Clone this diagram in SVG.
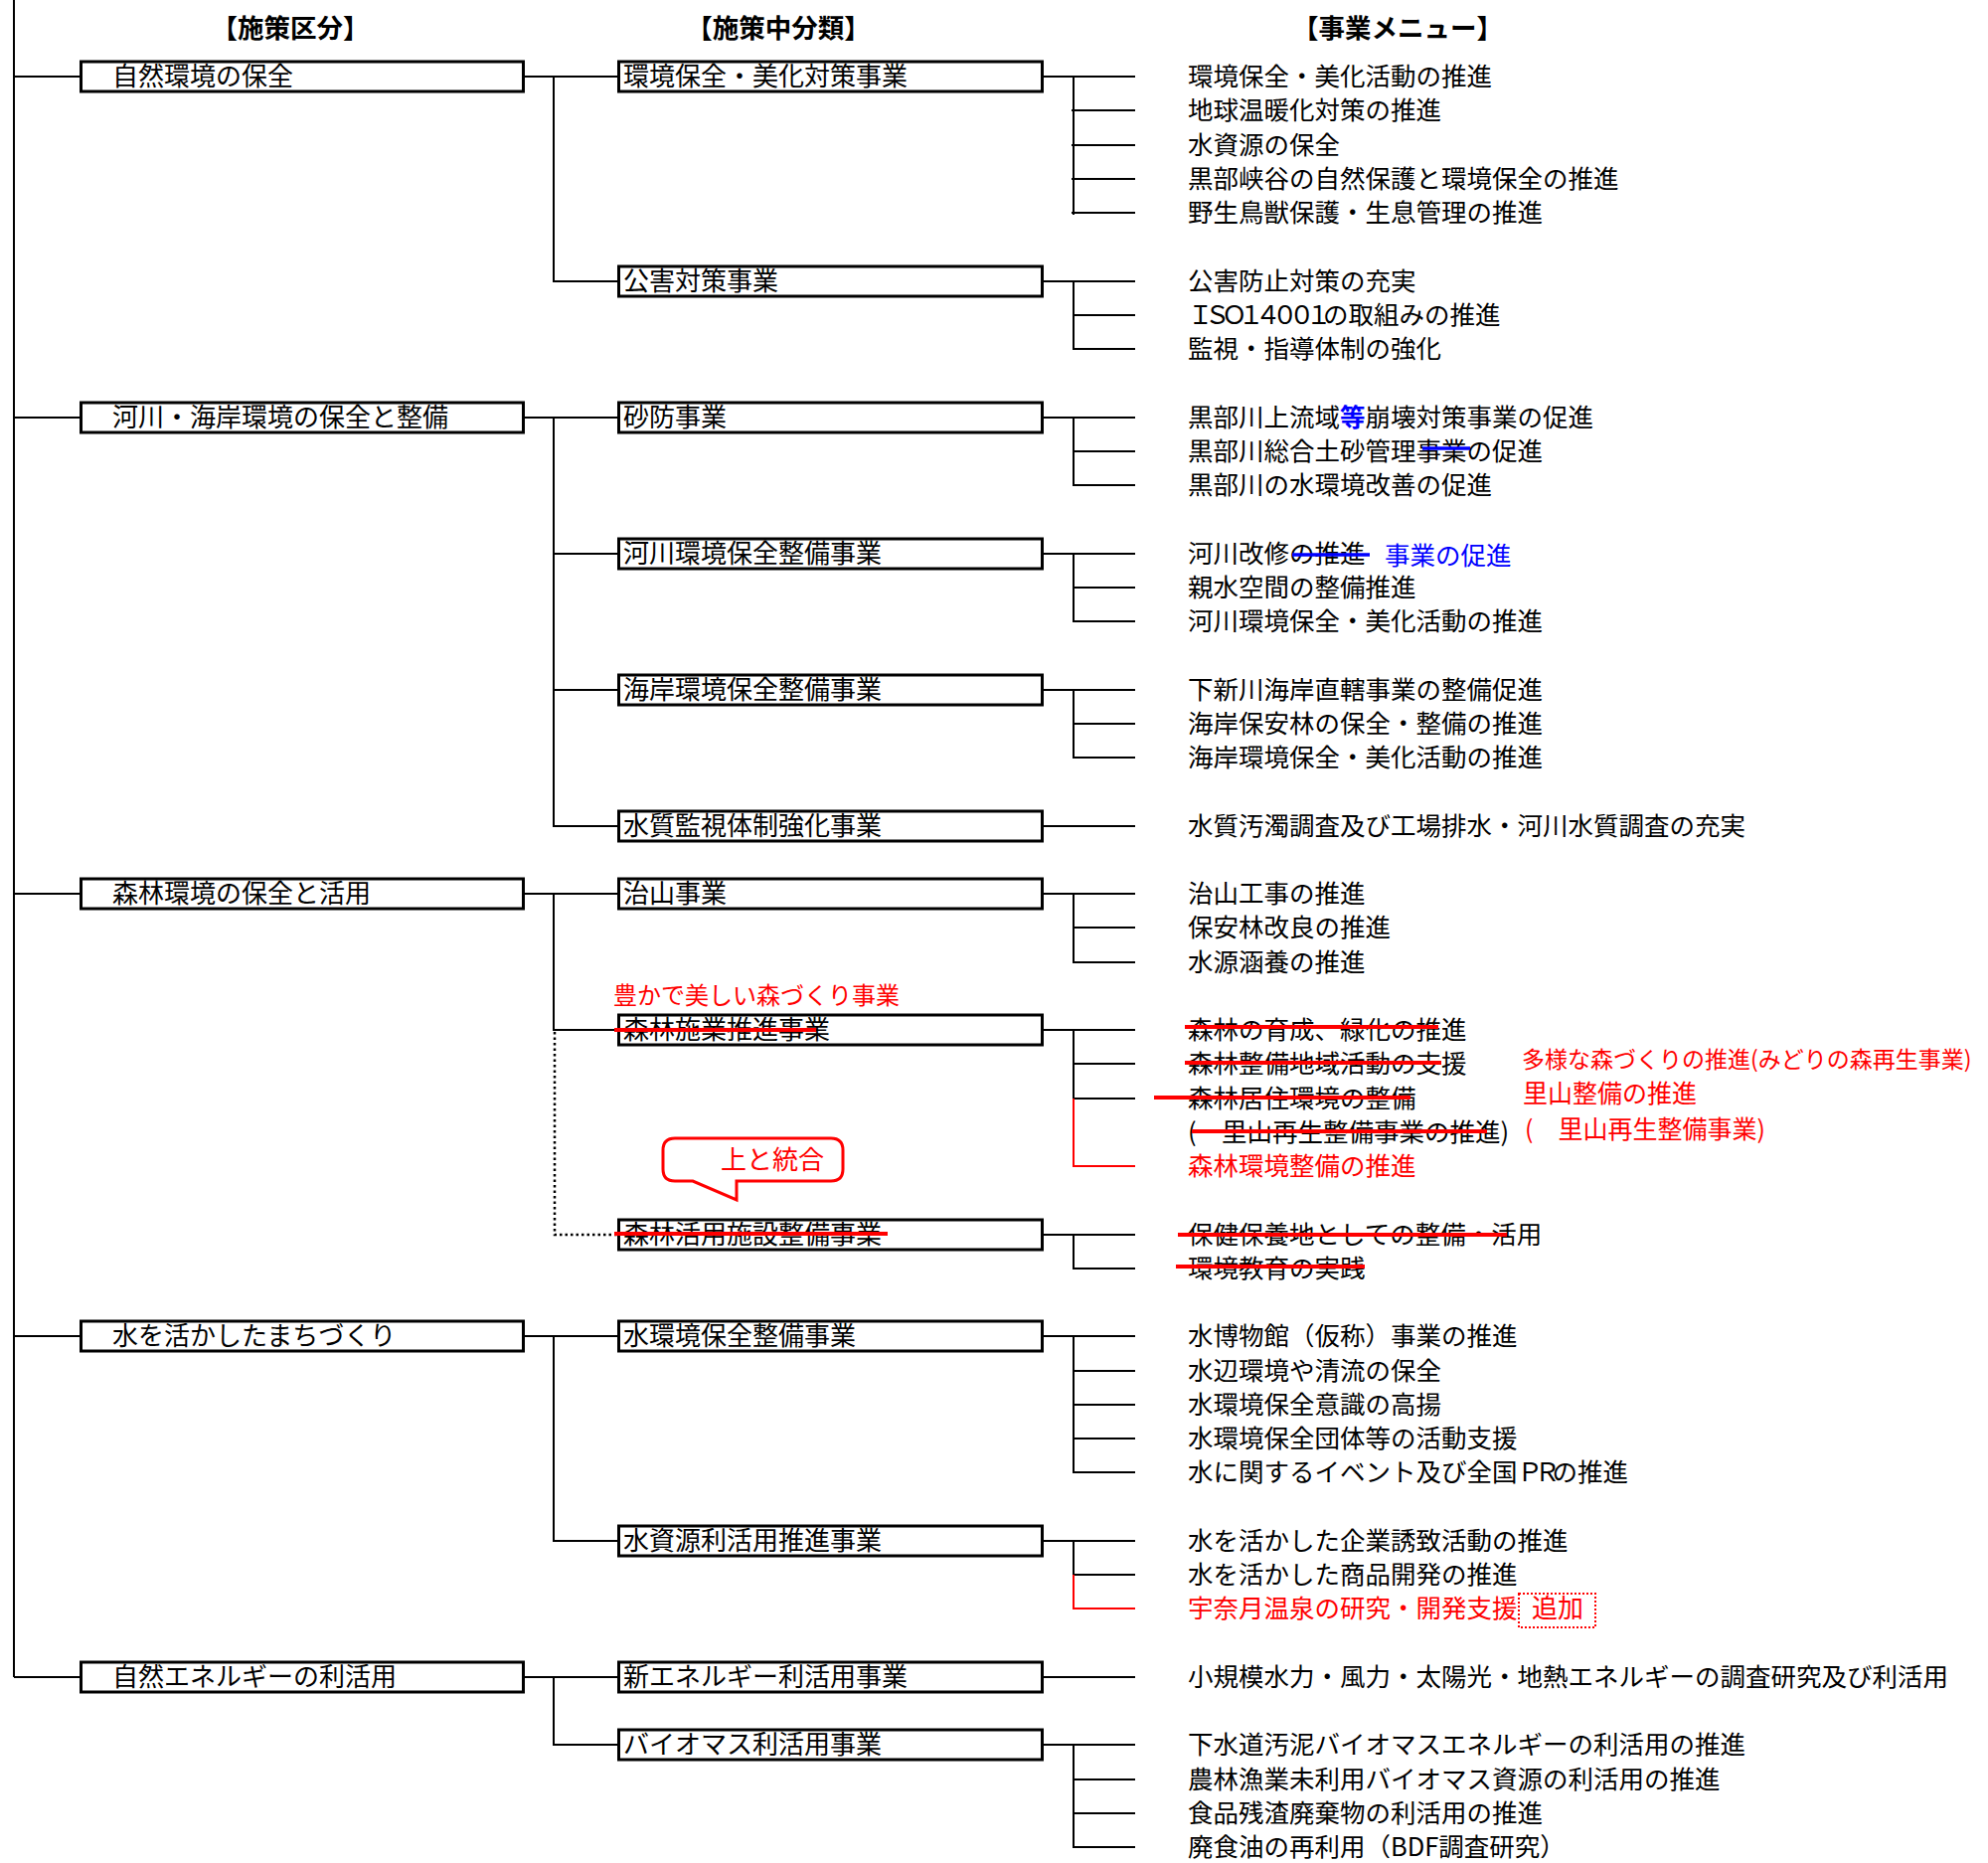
<svg xmlns="http://www.w3.org/2000/svg" width="2000" height="1874" viewBox="0 0 2000 1874">
<style>
.box{fill:#fff;stroke:#000;stroke-width:3}
.ln{stroke:#000;stroke-width:2;fill:none}
.rl{stroke:#f00;stroke-width:2;fill:none}
.dl{stroke:#000;stroke-width:2.5;fill:none;stroke-dasharray:2.5 3}
.st{stroke:#f00;stroke-width:4}
.bst{stroke:#00f;stroke-width:3.5}
text{font-family:"Noto Sans CJK JP","Noto Sans",sans-serif;font-size:26px;fill:#000}
.it{font-size:25.5px}
.hd{font-weight:bold;font-size:26.5px;text-anchor:middle}
.red{fill:#f00}
.blue{fill:#00f}
</style>
<rect width="2000" height="1874" fill="#fff"/>

<g id="headers">
<text class="hd" x="292" y="38">【施策区分】</text>
<text class="hd" x="783" y="38">【施策中分類】</text>
<text class="hd" x="1406" y="38">【事業メニュー】</text>
</g>

<g id="connectors">
<line class="ln" x1="14" y1="0" x2="14" y2="1687"/>
<line class="ln" x1="14" y1="77" x2="80" y2="77"/>
<line class="ln" x1="14" y1="420" x2="80" y2="420"/>
<line class="ln" x1="14" y1="899" x2="80" y2="899"/>
<line class="ln" x1="14" y1="1344" x2="80" y2="1344"/>
<line class="ln" x1="14" y1="1687" x2="80" y2="1687"/>
<!-- top to mid -->
<line class="ln" x1="528" y1="77" x2="621" y2="77"/>
<path class="ln" d="M557,77 V283 H621"/>
<line class="ln" x1="528" y1="420" x2="621" y2="420"/>
<path class="ln" d="M557,420 V831 H621 M557,557 H621 M557,694 H621"/>
<line class="ln" x1="528" y1="899" x2="621" y2="899"/>
<path class="ln" d="M557,899 V1036 H621"/>
<path class="dl" d="M558,1038 V1242 H621"/>
<line class="ln" x1="528" y1="1344" x2="621" y2="1344"/>
<path class="ln" d="M557,1344 V1550 H621"/>
<line class="ln" x1="528" y1="1687" x2="621" y2="1687"/>
<path class="ln" d="M557,1687 V1755 H621"/>
<!-- mid to items -->
<path class="ln" d="M1050,77 H1142 M1080,77 V216 M1078,111 H1142 M1078,146 H1142 M1078,180 H1142 M1078,214 H1142"/>
<path class="ln" d="M1050,283 H1142 M1080,283 V351 H1142 M1080,317 H1142"/>
<path class="ln" d="M1050,420 H1142 M1080,420 V488 H1142 M1080,454 H1142"/>
<path class="ln" d="M1050,557 H1142 M1080,557 V625 H1142 M1080,591 H1142"/>
<path class="ln" d="M1050,694 H1142 M1080,694 V762 H1142 M1080,728 H1142"/>
<path class="ln" d="M1050,831 H1142"/>
<path class="ln" d="M1050,899 H1142 M1080,899 V968 H1142 M1080,933 H1142"/>
<path class="ln" d="M1050,1036 H1142 M1080,1036 V1105 H1142 M1080,1070 H1142"/>
<path class="rl" d="M1080,1105 V1173 H1142"/>
<path class="ln" d="M1050,1242 H1142 M1080,1242 V1276 H1142"/>
<path class="ln" d="M1050,1344 H1142 M1080,1344 V1481 H1142 M1080,1379 H1142 M1080,1413 H1142 M1080,1447 H1142"/>
<path class="ln" d="M1050,1550 H1142 M1080,1550 V1584 H1142"/>
<path class="rl" d="M1080,1584 V1618 H1142"/>
<path class="ln" d="M1050,1687 H1142"/>
<path class="ln" d="M1050,1755 H1142 M1080,1755 V1858 H1142 M1080,1790 H1142 M1080,1824 H1142"/>
</g>

<!-- top level nodes -->
<g id="n-shizen"><rect class="box" x="81.5" y="62" width="445" height="30"/><text x="113" y="86">自然環境の保全</text></g>
<g id="n-kasen"><rect class="box" x="81.5" y="405" width="445" height="30"/><text x="113" y="429">河川・海岸環境の保全と整備</text></g>
<g id="n-shinrin"><rect class="box" x="81.5" y="884" width="445" height="30"/><text x="113" y="908">森林環境の保全と活用</text></g>
<g id="n-mizu"><rect class="box" x="81.5" y="1329" width="445" height="30"/><text x="113" y="1353">水を活かしたまちづくり</text></g>
<g id="n-energy"><rect class="box" x="81.5" y="1672" width="445" height="30"/><text x="113" y="1696">自然エネルギーの利活用</text></g>

<!-- mid level nodes -->
<g id="m-bika"><rect class="box" x="622.5" y="62" width="426" height="30"/><text x="627" y="86">環境保全・美化対策事業</text></g>
<g id="m-kougai"><rect class="box" x="622.5" y="268" width="426" height="30"/><text x="627" y="292">公害対策事業</text></g>
<g id="m-sabou"><rect class="box" x="622.5" y="405" width="426" height="30"/><text x="627" y="429">砂防事業</text></g>
<g id="m-kasen"><rect class="box" x="622.5" y="542" width="426" height="30"/><text x="627" y="566">河川環境保全整備事業</text></g>
<g id="m-kaigan"><rect class="box" x="622.5" y="679" width="426" height="30"/><text x="627" y="703">海岸環境保全整備事業</text></g>
<g id="m-suishitsu"><rect class="box" x="622.5" y="816" width="426" height="30"/><text x="627" y="840">水質監視体制強化事業</text></g>
<g id="m-chisan"><rect class="box" x="622.5" y="884" width="426" height="30"/><text x="627" y="908">治山事業</text></g>
<g id="m-segyou"><rect class="box" x="622.5" y="1021" width="426" height="30"/><text x="627" y="1045">森林施業推進事業</text>
<line class="st" x1="618" y1="1036" x2="821" y2="1036"/>
<text class="red" x="617" y="1010" style="font-size:24px">豊かで美しい森づくり事業</text></g>
<g id="m-katsuyou"><rect class="box" x="622.5" y="1227" width="426" height="30"/><text x="627" y="1251">森林活用施設整備事業</text>
<line class="st" x1="618" y1="1241" x2="893" y2="1241"/></g>
<g id="m-mizukankyo"><rect class="box" x="622.5" y="1329" width="426" height="30"/><text x="627" y="1353">水環境保全整備事業</text></g>
<g id="m-suigen"><rect class="box" x="622.5" y="1535" width="426" height="30"/><text x="627" y="1559">水資源利活用推進事業</text></g>
<g id="m-shinene"><rect class="box" x="622.5" y="1672" width="426" height="30"/><text x="627" y="1696">新エネルギー利活用事業</text></g>
<g id="m-biomass"><rect class="box" x="622.5" y="1740" width="426" height="30"/><text x="627" y="1764">バイオマス利活用事業</text></g>

<!-- callout -->
<g id="callout">
<path d="M679,1145 H836 Q848,1145 848,1157 V1176 Q848,1188 836,1188 H741 V1207 L697,1188 H679 Q667,1188 667,1176 V1157 Q667,1145 679,1145 Z" fill="#fff" stroke="#f00" stroke-width="3"/>
<text class="red" x="725" y="1176">上と統合</text>
</g>

<!-- menu items -->
<g id="items">
<text class="it" x="1195" y="86">環境保全・美化活動の推進</text>
<text class="it" x="1195" y="120">地球温暖化対策の推進</text>
<text class="it" x="1195" y="155">水資源の保全</text>
<text class="it" x="1195" y="189">黒部峡谷の自然保護と環境保全の推進</text>
<text class="it" x="1195" y="223">野生鳥獣保護・生息管理の推進</text>
<text class="it" x="1195" y="292">公害防止対策の充実</text>
<text class="it" x="1195" y="326"><tspan letter-spacing="-8.5">ＩＳＯ１４００１</tspan>の取組みの推進</text>
<text class="it" x="1195" y="360">監視・指導体制の強化</text>
<text class="it" x="1195" y="429">黒部川上流域<tspan class="blue" font-weight="bold">等</tspan>崩壊対策事業の促進</text>
<text class="it" x="1195" y="463">黒部川総合土砂管理事業の促進</text>
<line class="bst" x1="1431" y1="451" x2="1479" y2="451"/>
<text class="it" x="1195" y="497">黒部川の水環境改善の促進</text>
<text class="it" x="1195" y="566">河川改修の推進</text>
<line class="bst" x1="1300" y1="558" x2="1378" y2="558"/>
<text class="it blue" x="1393" y="568">事業の促進</text>
<text class="it" x="1195" y="600">親水空間の整備推進</text>
<text class="it" x="1195" y="634">河川環境保全・美化活動の推進</text>
<text class="it" x="1195" y="703">下新川海岸直轄事業の整備促進</text>
<text class="it" x="1195" y="737">海岸保安林の保全・整備の推進</text>
<text class="it" x="1195" y="771">海岸環境保全・美化活動の推進</text>
<text class="it" x="1195" y="840">水質汚濁調査及び工場排水・河川水質調査の充実</text>
<text class="it" x="1195" y="908">治山工事の推進</text>
<text class="it" x="1195" y="942">保安林改良の推進</text>
<text class="it" x="1195" y="977">水源涵養の推進</text>
<text class="it" x="1195" y="1045">森林の育成、緑化の推進</text>
<line class="st" x1="1192" y1="1033" x2="1447" y2="1033"/>
<text class="it" x="1195" y="1079">森林整備地域活動の支援</text>
<line class="st" x1="1192" y1="1069" x2="1450" y2="1069"/>
<text class="it" x="1195" y="1114">森林居住環境の整備</text>
<line class="st" x1="1161" y1="1104" x2="1419" y2="1104"/>
<text class="it" x="1195" y="1148">(　里山再生整備事業の推進)</text>
<line class="st" x1="1199" y1="1138" x2="1496" y2="1138"/>
<text class="it red" x="1195" y="1182">森林環境整備の推進</text>
<text class="red" x="1531" y="1074" style="font-size:23px">多様な森づくりの推進(みどりの森再生事業)</text>
<text class="red" x="1532" y="1109" style="font-size:25px">里山整備の推進</text>
<text class="red" x="1534" y="1145" style="font-size:25px">(　里山再生整備事業)</text>
<text class="it" x="1195" y="1251">保健保養地としての整備・活用</text>
<line class="st" x1="1185" y1="1242" x2="1516" y2="1242"/>
<text class="it" x="1195" y="1285">環境教育の実践</text>
<line class="st" x1="1183" y1="1274" x2="1373" y2="1274"/>
<text class="it" x="1195" y="1353">水博物館（仮称）事業の推進</text>
<text class="it" x="1195" y="1388">水辺環境や清流の保全</text>
<text class="it" x="1195" y="1422">水環境保全意識の高揚</text>
<text class="it" x="1195" y="1456">水環境保全団体等の活動支援</text>
<text class="it" x="1195" y="1490">水に関するイベント及び全国<tspan letter-spacing="-8">ＰＲ</tspan>の推進</text>
<text class="it" x="1195" y="1559">水を活かした企業誘致活動の推進</text>
<text class="it" x="1195" y="1593">水を活かした商品開発の推進</text>
<text class="it red" x="1195" y="1627">宇奈月温泉の研究・開発支援</text>
<rect x="1528" y="1603" width="77" height="34" fill="none" stroke="#f00" stroke-width="2" stroke-dasharray="2 2"/>
<text class="red" x="1541" y="1627">追加</text>
<text class="it" x="1195" y="1696">小規模水力・風力・太陽光・地熱エネルギーの調査研究及び利活用</text>
<text class="it" x="1195" y="1764">下水道汚泥バイオマスエネルギーの利活用の推進</text>
<text class="it" x="1195" y="1799">農林漁業未利用バイオマス資源の利活用の推進</text>
<text class="it" x="1195" y="1833">食品残渣廃棄物の利活用の推進</text>
<text class="it" x="1195" y="1867">廃食油の再利用（BDF調査研究）</text>
</g>
</svg>
